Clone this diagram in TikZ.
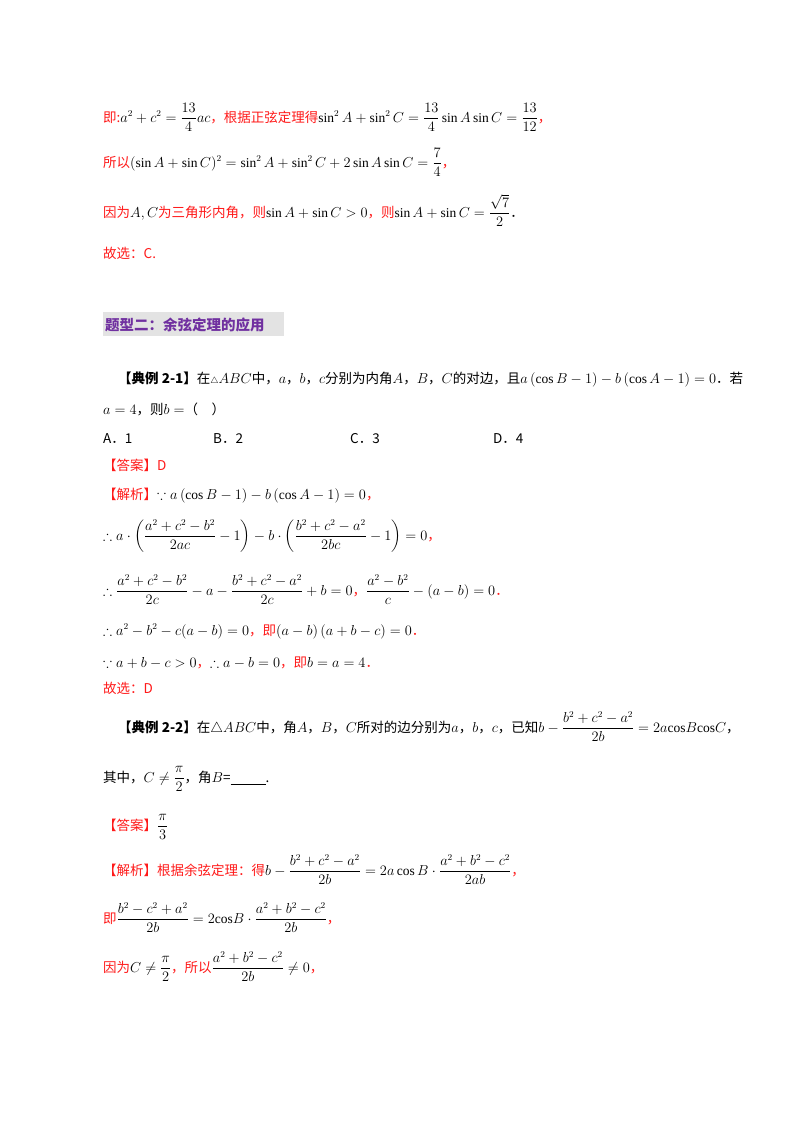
\documentclass[tikz,border=0pt]{standalone}
\usepackage{amsmath}
\usepackage{amssymb}
\usepackage{fontspec}
\setmainfont{Liberation Serif}
\newfontfamily\cjk{Noto Sans CJK SC}
\usetikzlibrary{positioning}
\definecolor{rd}{HTML}{FF1A1A}
\definecolor{pu}{HTML}{7030A0}
\newcommand{\R}[1]{\textcolor{rd}{#1}}
\tikzset{ln/.style={anchor=base west,inner sep=0pt,font=\fontsize{13.5}{16}\selectfont\cjk}}
\begin{document}
\begin{tikzpicture}[x=1pt,y=-1pt]
\useasboundingbox[fill=white] (0,0) rectangle (800,1132);
\node[ln] (l1) at (103,122) {\R{即:}$a^2+c^2=\dfrac{13}{4}ac$\R{，根据正弦定理得}$\sin^2A+\sin^2C=\dfrac{13}{4}\sin A\sin C=\dfrac{13}{12}$\R{，}};
\node[ln] (l2) at (103,167) {\R{所以}$(\sin A+\sin C)^2=\sin^2A+\sin^2C+2\sin A\sin C=\dfrac{7}{4}$\R{，}};
\node[ln] (l3) at (103,217) {\R{因为}$A,C$\R{为三角形内角，则}$\sin A+\sin C>0$\R{，则}$\sin A+\sin C=\dfrac{\sqrt7}{2}$．};
\node[ln] (l4) at (103,258) {\R{故选：C.}};
\fill[gray!22] (103,312) rectangle (284,336);
\node[ln,font=\fontsize{14.5}{16}\selectfont\cjk\bfseries,text=pu] (h) at (105,330) {题型二：余弦定理的应用};
\node[ln] (e1) at (118,383) {\textbf{【典例 2-1】}在${\scriptstyle\triangle} ABC$中，$a$，$b$，$c$分别为内角$A$，$B$，$C$的对边，且$a\left(\cos B-1\right)-b\left(\cos A-1\right)=0$．若};
\node[ln] (e1b) at (103,414) {$a=4$，则$b=$（\quad）};
\node[ln] (oa) at (103,443) {A．1};
\node[ln] (ob) at (213,443) {B．2};
\node[ln] (oc) at (350,443) {C．3};
\node[ln] (od) at (493,443) {D．4};
\node[ln] (ans) at (103,470) {\R{【答案】D}};
\node[ln] (s1) at (103,499) {\R{【解析】}$\because a\left(\cos B-1\right)-b\left(\cos A-1\right)=0$\R{，}};
\node[ln] (s2) at (103,540) {$\therefore a\cdot\left(\dfrac{a^2+c^2-b^2}{2ac}-1\right)-b\cdot\left(\dfrac{b^2+c^2-a^2}{2bc}-1\right)=0$\R{，}};
\node[ln] (s3) at (103,595) {$\therefore \dfrac{a^2+c^2-b^2}{2c}-a-\dfrac{b^2+c^2-a^2}{2c}+b=0$\R{，}$\dfrac{a^2-b^2}{c}-(a-b)=0$\R{．}};
\node[ln] (s4) at (103,635) {$\therefore a^2-b^2-c(a-b)=0$\R{，即}$\left(a-b\right)\left(a+b-c\right)=0$\R{．}};
\node[ln] (s5) at (103,667) {$\because a+b-c>0$\R{，}$\therefore a-b=0$\R{，即}$b=a=4$\R{．}};
\node[ln] (s6) at (103,693) {\R{故选：D}};
\node[ln] (e2) at (118,732) {\textbf{【典例 2-2】}在$\triangle ABC$中，角$A$，$B$，$C$所对的边分别为$a$，$b$，$c$，已知$b-\dfrac{b^2+c^2-a^2}{2b}=2a\mathrm{cos}B\mathrm{cos}C$，};
\node[ln] (e2b) at (103,782) {其中，$C\neq\dfrac{\pi}{2}$，角$B$=\underline{\hspace{2.6em}}.};
\node[ln] (a2) at (103,830) {\R{【答案】}$\dfrac{\pi}{3}$};
\node[ln] (t1) at (103,875) {\R{【解析】根据余弦定理：得}$b-\dfrac{b^2+c^2-a^2}{2b}=2a\cos B\cdot\dfrac{a^2+b^2-c^2}{2ab}$\R{，}};
\node[ln] (t2) at (103,923) {\R{即}$\dfrac{b^2-c^2+a^2}{2b}=2\mathrm{cos}B\cdot\dfrac{a^2+b^2-c^2}{2b}$\R{，}};
\node[ln] (t3) at (103,972) {\R{因为}$C\neq\dfrac{\pi}{2}$\R{，所以}$\dfrac{a^2+b^2-c^2}{2b}\neq0$\R{，}};
\end{tikzpicture}
\end{document}
